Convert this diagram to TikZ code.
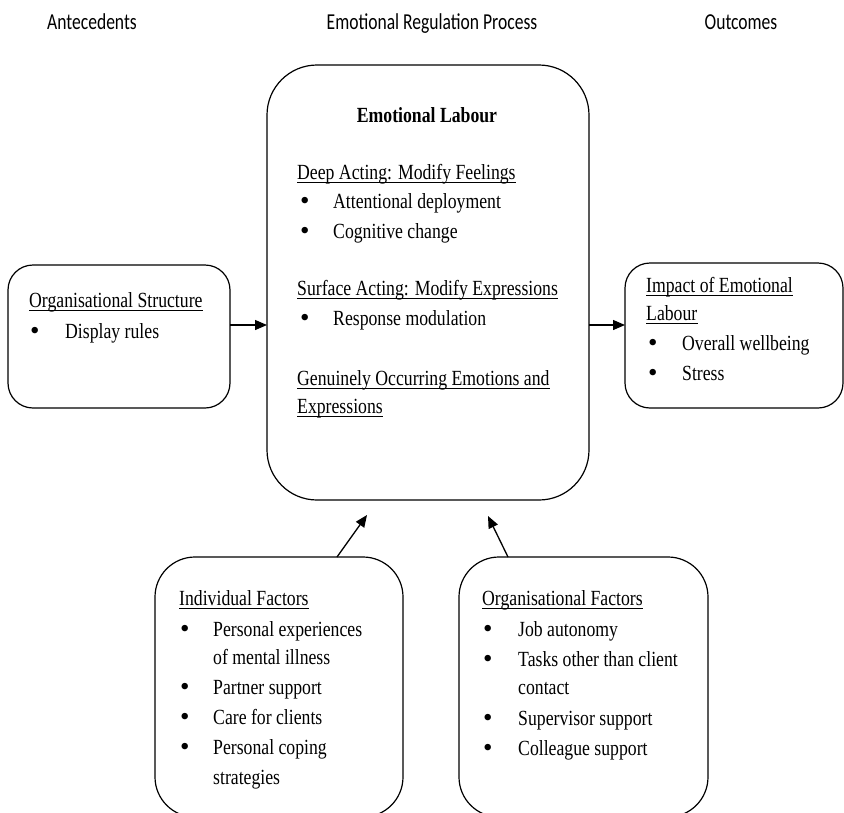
\documentclass[tikz,border=0pt]{standalone}
\usepackage{fontspec}
\setmainfont{Liberation Serif}[FakeStretch=0.82]
\newfontfamily\bulfont{Liberation Serif}
\newfontfamily\hdrfont{Carlito}[FakeStretch=0.77]
\usetikzlibrary{arrows.meta}
\begin{document}
\begin{tikzpicture}[x=1pt,y=-1pt,
  box/.style={draw=black, line width=1.2pt, inner sep=0pt, outer sep=0pt},
  txt/.style={inner sep=0pt, anchor=base west, font=\fontsize{21.6}{26}\selectfont},
  bul/.style={inner sep=0pt, anchor=base west, yshift=-1.5pt, font=\bulfont\fontsize{27}{27}\selectfont},
  ul/.style={append after command={([yshift=-3.5pt]\tikzlastnode.base west) edge[draw=black, line width=1.1pt] ([yshift=-3.5pt]\tikzlastnode.base east)}},
  hdr/.style={inner sep=0pt, anchor=base, font=\hdrfont\fontsize{22.8}{26}\selectfont},
  arr/.style={line width=1.3pt, -{Triangle[length=12pt,width=10pt]}}]
\useasboundingbox (0,0) rectangle (844,812);
% headers
\node[hdr] (h1) at (92,29) {Antecedents};
\node[hdr] (h2) at (432,29) {Emotional Regulation Process};
\node[hdr] (h3) at (741,29) {Outcomes};
% boxes
\node[box, rounded corners=50pt, minimum width=322pt, minimum height=435pt] (main) at (428,282.5) {};
\node[box, rounded corners=25pt, minimum width=222pt, minimum height=143pt] (lbox) at (119,336.5) {};
\node[box, rounded corners=25pt, minimum width=218pt, minimum height=145pt] (rbox) at (734,335.5) {};
\node[box, rounded corners=40pt, minimum width=248pt, minimum height=260pt] (blbox) at (279,687) {};
\node[box, rounded corners=40pt, minimum width=249pt, minimum height=260pt] (brbox) at (583.5,687) {};
% main box text
\node[txt, anchor=base] (mt) at (427,122) {\bfseries Emotional Labour};
\node[txt, ul] (m1) at (297,179) {Deep Acting: Modify Feelings};
\node[bul] (m2b) at (300,208) {•};
\node[txt] (m2) at (333,208) {Attentional deployment};
\node[bul] (m3b) at (300,238) {•};
\node[txt] (m3) at (333,238) {Cognitive change};
\node[txt, ul] (m4) at (297,295) {Surface Acting: Modify Expressions};
\node[bul] (m5b) at (300,325) {•};
\node[txt] (m5) at (333,325) {Response modulation};
\node[txt, ul] (m6) at (297,385) {Genuinely Occurring Emotions and};
\node[txt, ul] (m7) at (297,413) {Expressions};
% left box text
\node[txt, ul] (l1) at (29,307) {Organisational Structure};
\node[bul] (l2b) at (30,338) {•};
\node[txt] (l2) at (65,338) {Display rules};
% right box text
\node[txt, ul] (r1) at (646,292) {Impact of Emotional};
\node[txt, ul] (r2) at (646,320) {Labour};
\node[bul] (r3b) at (648,350) {•};
\node[txt] (r3) at (682,350) {Overall wellbeing};
\node[bul] (r4b) at (648,380) {•};
\node[txt] (r4) at (682,380) {Stress};
% bottom left text
\node[txt, ul] (a1) at (179,605) {Individual Factors};
\node[bul] (a2b) at (180,636) {•};
\node[txt] (a2) at (213,636) {Personal experiences};
\node[txt] (a3) at (213,664) {of mental illness};
\node[bul] (a4b) at (180,694) {•};
\node[txt] (a4) at (213,694) {Partner support};
\node[bul] (a5b) at (180,724) {•};
\node[txt] (a5) at (213,724) {Care for clients};
\node[bul] (a6b) at (180,754) {•};
\node[txt] (a6) at (213,754) {Personal coping};
\node[txt] (a7) at (213,784) {strategies};
% bottom right text
\node[txt, ul] (b1) at (482,605) {Organisational Factors};
\node[bul] (b2b) at (483,636) {•};
\node[txt] (b2) at (518,636) {Job autonomy};
\node[bul] (b3b) at (483,666) {•};
\node[txt] (b3) at (518,666) {Tasks other than client};
\node[txt] (b4) at (518,694) {contact};
\node[bul] (b5b) at (483,725) {•};
\node[txt] (b5) at (518,725) {Supervisor support};
\node[bul] (b6b) at (483,755) {•};
\node[txt] (b6) at (518,755) {Colleague support};
% arrows
\coordinate (tipL) at (367,515);
\coordinate (tipR) at (488,516);
\draw[arr] (lbox.east |- 0,325) -- (main.west |- 0,325);
\draw[arr] (main.east |- 0,325) -- (rbox.west |- 0,325);
\draw[arr] (337,0 |- blbox.north) -- (tipL);
\draw[arr] (508,0 |- brbox.north) -- (tipR);
\end{tikzpicture}
\end{document}
